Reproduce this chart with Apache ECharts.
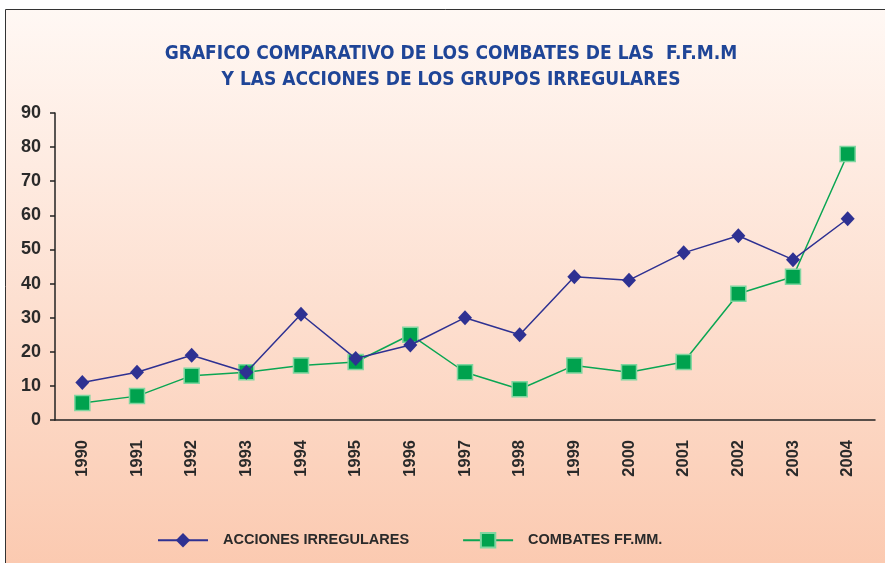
<!DOCTYPE html>
<html>
<head>
<meta charset="utf-8">
<title>Grafico comparativo</title>
<script src="https://cdn.jsdelivr.net/npm/echarts@6/dist/echarts.min.js"></script>
<style>
  html, body { margin: 0; padding: 0; background: #ffffff; }
  #chart { width: 885px; height: 563px; }
</style>
</head>
<body>
<div id="chart"></div>
<script>
var years = ['1990','1991','1992','1993','1994','1995','1996','1997','1998','1999','2000','2001','2002','2003','2004'];
var acciones = [11, 14, 19, 14, 31, 18, 22, 30, 25, 42, 41, 49, 54, 47, 59];
var combates = [5, 7, 13, 14, 16, 17, 25, 14, 9, 16, 14, 17, 37, 42, 78];
var yTicks = [0, 10, 20, 30, 40, 50, 60, 70, 80, 90];

var chart = echarts.init(document.getElementById('chart'));

var option = {
    animation: false,
    graphic: [{
        type: 'rect',
        z: -10,
        silent: true,
        shape: { x: 5.5, y: 9.5, width: 900, height: 600 },
        style: {
            fill: new echarts.graphic.LinearGradient(0, 0, 0, 1, [
                { offset: 0, color: '#fff8f4' },
                { offset: 1, color: '#fbc6ab' }
            ]),
            stroke: '#333333',
            lineWidth: 1
        }
    }],
    title: {
        text: 'GRAFICO COMPARATIVO DE LOS COMBATES DE LAS  F.F.M.M\nY LAS ACCIONES DE LOS GRUPOS IRREGULARES',
        left: 451,
        textAlign: 'center',
        top: 41,
        padding: 0,
        textStyle: {
            fontFamily: '"Liberation Sans Narrow", "DejaVu Sans Condensed", sans-serif',
            fontWeight: 'bold',
            fontSize: 19,
            lineHeight: 26,
            color: '#1f4597'
        }
    },
    legend: {
        left: 152,
        top: 527,
        itemWidth: 50,
        itemHeight: 18,
        itemGap: 53,
        textStyle: {
            fontFamily: '"Liberation Sans", Arial, sans-serif',
            fontWeight: 'bold',
            fontSize: 14.5,
            color: '#2a2a2a',
            padding: [0, 0, 0, 10]
        },
        data: ['ACCIONES IRREGULARES', 'COMBATES FF.MM.']
    },
    grid: {
        left: 55,
        right: 10,
        top: 113,
        bottom: 143
    },
    xAxis: {
        type: 'category',
        boundaryGap: true,
        data: years,
        axisLine: { lineStyle: { color: '#222222', width: 1.5 } },
        axisTick: { alignWithLabel: false, length: 6, lineStyle: { color: '#222222', width: 1.5 } },
        axisLabel: {
            rotate: 90,
            margin: 20,
            interval: 0,
            fontFamily: '"Liberation Sans", Arial, sans-serif',
            fontWeight: 'bold',
            fontSize: 16.5,
            color: '#2a2a2a'
        }
    },
    yAxis: {
        type: 'value',
        min: yTicks[0],
        max: yTicks[yTicks.length - 1],
        interval: 10,
        axisLine: { show: true, lineStyle: { color: '#222222', width: 1.5 } },
        axisTick: { show: true, length: 5, lineStyle: { color: '#222222', width: 1.5 } },
        splitLine: { show: false },
        axisLabel: {
            margin: 14,
            fontFamily: '"Liberation Sans", Arial, sans-serif',
            fontWeight: 'bold',
            fontSize: 18,
            color: '#2a2a2a'
        }
    },
    series: [
        {
            name: 'ACCIONES IRREGULARES',
            type: 'line',
            data: acciones,
            symbol: 'diamond',
            symbolSize: [14, 15],
            lineStyle: { color: '#2e3192', width: 1.5 },
            itemStyle: { color: '#2e3192' },
            z: 3
        },
        {
            name: 'COMBATES FF.MM.',
            type: 'line',
            data: combates,
            symbol: 'rect',
            symbolSize: 15,
            lineStyle: { color: '#0aa653', width: 1.5 },
            itemStyle: { color: '#00a24e', borderColor: '#7fd6a0', borderWidth: 1.5 },
            z: 2
        }
    ]
};

if (option && typeof option === 'object') {
    chart.setOption(option, true);
}
</script>
</body>
</html>
